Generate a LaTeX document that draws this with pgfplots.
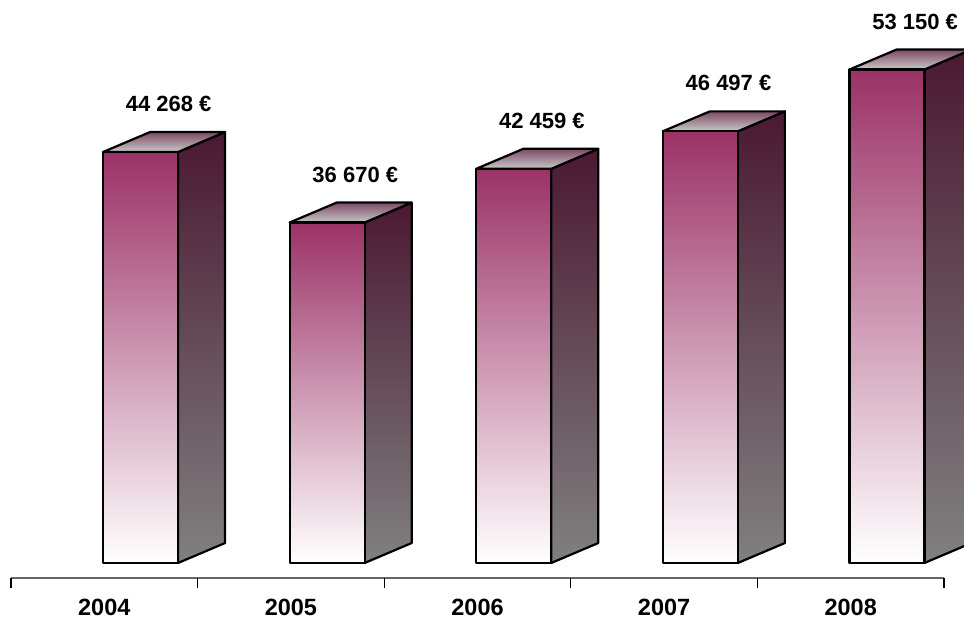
\documentclass[border=0pt]{standalone}
\usepackage{pgfplots}
\pgfplotsset{compat=1.18}
\usepackage{fontspec}
\setmainfont{Liberation Sans}
\definecolor{frontc}{RGB}{155,50,102}
\definecolor{sidetop}{RGB}{75,25,50}
\definecolor{sidebot}{RGB}{128,128,128}
\definecolor{topback}{RGB}{125,75,100}
\definecolor{topfront}{RGB}{200,200,200}
\newcommand{\tbar}[3]{%
 \pgfmathsetmacro\xa{#1+0.493}%
 \pgfmathsetmacro\xb{#1+0.895}%
 \pgfmathsetmacro\xc{#1+1.147}%
 \pgfmathsetmacro\xd{#1+0.745}%
 \pgfmathsetmacro\xe{#1+0.845}%
 \edef\yt{\the\numexpr#2+2150\relax}%
 \edef\yl{\the\numexpr#2+5170\relax}%
 \edef\temp{%
 \noexpand\addplot[draw=black, line width=2.2pt, line join=round, top color=sidetop, bottom color=sidebot] coordinates {(\xb,0) (\xc,2150) (\xc,\yt) (\xb,#2)} -- cycle;
 \noexpand\addplot[draw=black, line width=2.2pt, line join=round, top color=topback, bottom color=topfront] coordinates {(\xa,#2) (\xb,#2) (\xc,\yt) (\xd,\yt)} -- cycle;
 \noexpand\addplot[draw=black, line width=2.2pt, line join=round, top color=frontc, bottom color=white] coordinates {(\xa,0) (\xb,0) (\xb,#2) (\xa,#2)} -- cycle;
 \noexpand\node[inner sep=0pt, font=\noexpand\fontsize{22}{25}\noexpand\selectfont\noexpand\bfseries] at (axis cs:\xe,\yl) {#3};
 }\temp
}
\begin{document}
\begin{tikzpicture}
\begin{axis}[scale only axis, width=964pt, height=619pt,
 xmin=-0.059, xmax=5.107, ymin=-6032, ymax=60642,
 hide axis, clip=true]
\tbar{0}{44268}{44 268 €}
\tbar{1}{36670}{36 670 €}
\tbar{2}{42459}{42 459 €}
\tbar{3}{46497}{46 497 €}
\tbar{4}{53150}{53 150 €}
\draw[gray!80!black, line width=1.3pt] (axis cs:0,-1616) -- (axis cs:5,-1616);
\foreach \i in {0,...,5} {\edef\temp{\noexpand\draw[black, line width=1.3pt] (axis cs:\i,-1616) -- (axis cs:\i,-2693);}\temp}
\foreach \i/\t in {0/2004,1/2005,2/2006,3/2007,4/2008} {\edef\temp{\noexpand\node[inner sep=0pt, font=\noexpand\fontsize{23.5}{27}\noexpand\selectfont\noexpand\bfseries] at (axis cs:\i+0.5,-4750) {\t};}\temp}
\path (rel axis cs:0,0) rectangle (rel axis cs:1,1);
\end{axis}
\end{tikzpicture}
\end{document}
